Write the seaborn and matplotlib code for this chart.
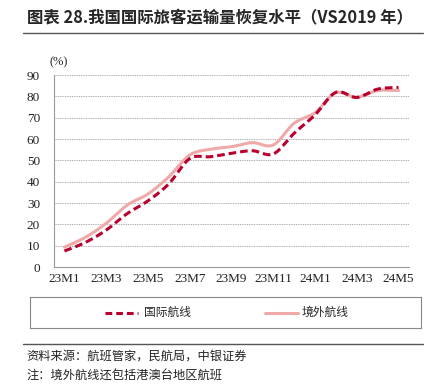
import numpy as np
import pandas as pd
import matplotlib
matplotlib.use("Agg")
import matplotlib.pyplot as plt
import seaborn as sns
from matplotlib.lines import Line2D

months = ["23M1", "23M2", "23M3", "23M4", "23M5", "23M6", "23M7", "23M8", "23M9",
          "23M10", "23M11", "23M12", "24M1", "24M2", "24M3", "24M4", "24M5"]
intl_routes = [7.5, 11.5, 17.3, 25.0, 31.0, 39.0, 50.8, 51.7, 53.3, 54.5, 53.0,
               62.7, 71.3, 81.9, 79.5, 83.4, 84.2]
overseas_routes = [9.3, 13.9, 20.5, 29.0, 34.2, 42.3, 52.5, 55.2, 56.4, 58.3, 57.2,
                   67.4, 72.3, 81.7, 79.5, 82.7, 82.7]
tick_labels = ["23M1", "23M3", "23M5", "23M7", "23M9", "23M11", "24M1", "24M3", "24M5"]
series_names = ["国际航线", "境外航线"]
colors = ["#B8002E", "#F0A9A9"]


def smooth(y, n=12):
    """Catmull-Rom curve through the data points (like Excel smoothed line)."""
    y = np.asarray(y, float)
    x = np.arange(len(y), dtype=float)
    px = np.concatenate([[2 * x[0] - x[1]], x, [2 * x[-1] - x[-2]]])
    py = np.concatenate([[2 * y[0] - y[1]], y, [2 * y[-1] - y[-2]]])
    xs, ys = [], []
    for i in range(1, len(px) - 2):
        t = np.linspace(0, 1, n, endpoint=False)
        for p, out in ((px, xs), (py, ys)):
            p0, p1, p2, p3 = p[i - 1], p[i], p[i + 1], p[i + 2]
            out.append(0.5 * ((2 * p1) + (-p0 + p2) * t +
                              (2 * p0 - 5 * p1 + 4 * p2 - p3) * t ** 2 +
                              (-p0 + 3 * p1 - 3 * p2 + p3) * t ** 3))
    xs.append([x[-1]]); ys.append([y[-1]])
    return np.concatenate(xs), np.concatenate(ys)


frames = []
for name, vals in zip(series_names, [intl_routes, overseas_routes]):
    sx, sy = smooth(vals)
    frames.append(pd.DataFrame({"x": sx, "y": sy, "series": name}))
df = pd.concat(frames, ignore_index=True)

sns.set_theme(style="white")
plt.rcParams["font.family"] = ["Liberation Serif", "Noto Sans CJK SC", "DejaVu Sans"]

fig = plt.figure(figsize=(4.32, 3.86), dpi=100)
ax = fig.add_axes([54 / 432, 1 - 267 / 386, 355 / 432, 192 / 386])

# overseas first (below), international dashed on top
sns.lineplot(data=df[df.series == series_names[1]], x="x", y="y", ax=ax,
             color=colors[1], linewidth=2.2, sort=False, legend=False)
sns.lineplot(data=df[df.series == series_names[0]], x="x", y="y", ax=ax,
             color=colors[0], linewidth=2.2, sort=False, legend=False)
ax.lines[-1].set_dashes([2.5, 1.3])

ax.set_xlim(-0.5, len(months) - 0.5)
ax.set_ylim(0, 90)
ax.set_yticks(np.arange(0, 91, 10))
ax.set_xlabel("")
ax.set_ylabel("")
ax.set_xticks(np.arange(0, len(months), 2))
ax.set_xticklabels(tick_labels)
ax.set_xticks(np.arange(-0.5, len(months), 2), minor=True)
ax.tick_params(axis="x", which="major", length=0, labelsize=9.5, pad=4, colors="#222222")
ax.tick_params(axis="x", which="minor", length=4, direction="inout", color="#888888", width=0.8)
ax.tick_params(axis="y", which="major", length=0, labelsize=9.5, pad=10, colors="#222222")
ax.yaxis.grid(True, color="#AAAAAA", linestyle=(0, (1, 0.8)), linewidth=0.7)
ax.xaxis.grid(False)
for s in ["top", "right"]:
    ax.spines[s].set_visible(False)
for s in ["left", "bottom"]:
    ax.spines[s].set_color("#999999")
    ax.spines[s].set_linewidth(0.8)
ax.set_axisbelow(True)

fig.text(49 / 432, 1 - 62 / 386, "(%)", fontsize=9, ha="left", va="center",
         family=["Liberation Serif"])

# Title
fig.text(27 / 432, 1 - 18 / 386, "图表 28.我国国际旅客运输量恢复水平（VS2019 年）",
         fontsize=11.8, fontweight="bold", ha="left", va="center",
         family=["Noto Sans CJK SC", "DejaVu Sans"])
fig.add_artist(Line2D([23 / 432, 423 / 432], [1 - 33 / 386, 1 - 33 / 386],
                      color="#555555", linewidth=1.0))

# Legend box
leg_ax = fig.add_axes([30 / 432, 1 - 328 / 386, 391 / 432, 31 / 386])
leg_ax.set_xlim(0, 391)
leg_ax.set_ylim(0, 31)
leg_ax.set_xticks([]); leg_ax.set_yticks([])
leg_ax.set_facecolor("white")
for s in leg_ax.spines.values():
    s.set_color("#888888"); s.set_linewidth(0.8); s.set_visible(True)
leg_ax.plot([75, 108], [15.5, 15.5], color=colors[0], linewidth=2.2, dashes=[2.2, 1.3])
leg_ax.plot([235, 268], [15.5, 15.5], color=colors[1], linewidth=2.2)
leg_ax.text(114, 15.5, series_names[0], fontsize=8.5, va="center", ha="left",
            family=["Noto Sans CJK SC"])
leg_ax.text(272, 15.5, series_names[1], fontsize=8.5, va="center", ha="left",
            family=["Noto Sans CJK SC"])

# Footer
fig.add_artist(Line2D([23 / 432, 423 / 432], [1 - 344 / 386, 1 - 344 / 386],
                      color="#555555", linewidth=1.0))
fig.text(26 / 432, 1 - 356 / 386, "资料来源：航班管家，民航局，中银证券", fontsize=8.8,
         ha="left", va="center", family=["Noto Sans CJK SC"], color="#222222")
fig.text(26 / 432, 1 - 376 / 386, "注：境外航线还包括港澳台地区航班", fontsize=8.8,
         ha="left", va="center", family=["Noto Sans CJK SC"], color="#222222")

fig.savefig("out.png", dpi=100)
